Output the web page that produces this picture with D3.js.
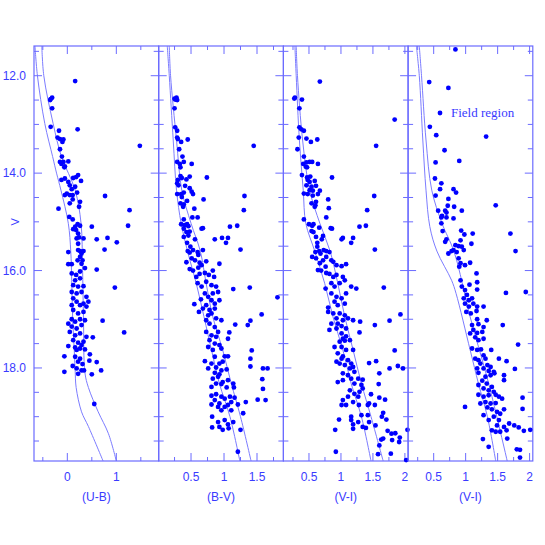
<!DOCTYPE html>
<html>
<head>
<meta charset="utf-8">
<script src="https://cdn.jsdelivr.net/npm/d3@7"></script>
<style>
body { margin: 0; background: #fff; }
</style>
</head>
<body>
<div id="main"></div>
<script>
var ctx = {
    w: 545,
    h: 545,
    top: 46,
    bottom: 461,
    left: 34,
    pw: 124.7,
};

// V magnitude axis
const vDomain = [11.39, 19.91];
const vLabels = [12, 14, 16, 18];

// colour axis tick labels
const ubTicks = [0, 1];
const bvTicks = [0.5, 1, 1.5];
const viTicks = [0.5, 1, 1.5, 2];

// cluster stars, [colour, V]
const pointsUB = [
    [0.16,12.11],[-0.31,12.45],[-0.34,12.48],[-0.35,12.5],[-0.31,12.67],[-0.34,13.05],[-0.17,13.13],[0.21,13.10],
    [-0.20,13.27],[-0.15,13.30],[-0.08,13.31],[-0.10,13.36],[-0.15,13.51],[1.48,13.44],
    [-0.11,13.66],[-0.15,13.77],[-0.08,13.77],[-0.12,13.81],[-0.05,13.86],[0.02,13.76],[-0.06,13.88],
    [0.22,14.04],[0.18,14.08],[0.12,14.10],[0.28,14.16],[-0.12,14.14],[-0.05,14.11],[0.02,14.18],
    [0.05,14.25],[0.16,14.28],[0.09,14.33],[0.20,14.40],[-0.01,14.42],[0.05,14.45],[0.11,14.45],[-0.05,14.45],
    [0.77,14.47],[0.26,14.59],[0.05,14.62],[0.11,14.54],[-0.18,14.73],[0.24,14.69],[1.27,14.76],
    [0.04,14.90],[0.11,14.95],[0.21,15.05],[0.16,15.10],[0.26,15.08],[0.12,15.15],[0.18,15.17],[0.50,15.10],[1.24,15.08],
    [0.22,15.24],[0.19,15.34],[0.24,15.32],[0.60,15.36],[0.82,15.33],[0.33,15.34],[1.01,15.42],[0.76,15.57],
    [0.22,15.45],[0.26,15.60],[0.33,15.60],[0.22,15.58],[0.29,15.65],[0.02,15.62],
    [0.26,15.72],[0.31,15.79],[0.21,15.79],[0.09,15.87],[0.29,15.86],[0.02,15.87],[0.36,15.95],[0.60,15.98],
    [0.09,16.06],[0.18,16.09],[0.26,16.02],[0.16,16.20],[0.26,16.16],
    [0.97,16.35],[0.12,16.3],[0.22,16.33],[0.33,16.32],[0.09,16.44],[0.19,16.47],[0.29,16.44],[0.39,16.54],[0.12,16.57],
    [0.19,16.64],[0.33,16.68],[0.43,16.64],[0.26,16.71],[0.09,16.71],[0.39,16.74],
    [0.12,16.81],[0.22,16.88],[0.33,16.85],[0.09,17.0],[0.26,17.0],[0.36,17.02],[0.16,17.05],[0.02,17.09],
    [0.72,17.03],[1.16,17.27],
    [0.09,17.15],[0.19,17.19],[0.29,17.12],[0.05,17.26],[0.16,17.33],[0.26,17.29],[0.39,17.36],[0.52,17.37],
    [0.12,17.43],[0.22,17.48],[0.33,17.46],[0.02,17.55],[0.16,17.58],[0.26,17.60],[0.36,17.62],[0.29,17.53],[0.19,17.63],
    [-0.06,17.76],[0.46,17.72],[0.16,17.77],[0.26,17.81],[0.22,17.87],[0.11,17.96],[0.31,17.92],[0.45,17.85],[0.60,17.88],
    [0.69,18.05],[-0.06,18.08],[0.19,18.01],[0.29,18.05],[0.34,18.05],[0.22,18.12],[0.50,18.13],[0.55,18.74],
];

const pointsBV = [
    [0.25,12.47],[0.28,12.45],[0.29,12.50],[0.26,12.49],[0.25,12.67],[0.26,13.06],[0.29,13.13],
    [0.29,13.27],[0.30,13.30],[0.35,13.36],[0.45,13.31],[0.32,13.51],[1.45,13.44],
    [0.37,13.66],[0.29,13.77],[0.33,13.81],[0.39,13.77],[0.34,13.88],[0.51,13.81],
    [0.34,14.06],[0.30,14.14],[0.29,14.21],[0.36,14.10],[0.43,14.13],[0.48,14.07],[0.31,14.25],[0.74,14.09],
    [0.41,14.26],[0.48,14.31],[0.51,14.38],[0.29,14.43],[0.35,14.43],[0.39,14.40],[0.53,14.43],[0.36,14.49],
    [1.31,14.47],[0.69,14.54],[0.44,14.57],[0.34,14.62],[0.39,14.64],[0.38,14.69],[0.55,14.73],[1.30,14.76],
    [0.52,14.91],[0.60,14.91],[0.39,14.95],
    [0.35,15.05],[0.40,15.07],[0.44,15.05],[0.46,15.09],[0.39,15.14],[0.43,15.21],[0.48,15.20],[0.46,15.28],
    [0.66,15.14],[0.68,15.13],[1.09,15.10],[1.20,15.08],[0.39,15.31],
    [0.86,15.36],[0.97,15.33],[1.06,15.33],[1.03,15.43],[0.56,15.36],[0.44,15.43],
    [0.49,15.51],[0.45,15.60],[0.48,15.63],[0.53,15.58],[0.60,15.62],[0.68,15.58],[1.25,15.57],[0.61,15.68],
    [0.51,15.75],[0.56,15.79],[0.63,15.84],[0.43,15.83],[0.66,15.89],[0.73,15.81],[0.61,15.94],[0.93,15.86],
    [0.48,15.97],[0.53,16.0],[0.63,16.07],[0.58,16.13],[0.71,16.05],[0.77,16.09],[0.83,16.0],[0.85,16.13],
    [0.60,16.26],[0.66,16.33],[0.73,16.23],[0.81,16.30],[0.88,16.33],[0.91,16.44],[0.83,16.47],
    [1.14,16.38],[1.39,16.35],[1.81,16.55],
    [0.65,16.59],[0.71,16.47],[0.76,16.54],[0.81,16.61],[0.55,16.69],[0.73,16.71],[0.86,16.68],[0.93,16.61],[0.62,16.85],
    [0.68,16.78],[0.78,16.81],[0.86,16.78],
    [0.76,16.92],[0.81,16.88],[0.73,17.02],[0.88,16.98],[0.96,17.02],[0.78,17.09],[0.86,17.16],[0.73,17.26],
    [1.57,16.9],[1.17,17.11],[1.36,17.12],[1.40,17.03],[1.08,17.27],[1.06,17.40],
    [0.81,17.33],[0.88,17.36],[0.91,17.26],[0.78,17.43],[0.86,17.5],[0.93,17.53],[0.76,17.57],[0.83,17.63],[0.96,17.60],
    [1.42,17.64],[1.40,17.81],[1.40,17.97],
    [1.01,17.76],[1.06,17.76],[0.71,17.86],[0.86,17.77],[0.81,17.91],[0.93,17.91],[0.98,17.87],
    [0.76,18.01],[0.88,17.99],[0.96,18.05],[1.04,18.03],[0.86,18.10],[0.93,18.13],
    [1.59,18.01],[1.66,18.01],[1.58,18.23],[1.59,18.43],[1.51,18.65],[1.63,18.66],
    [0.83,18.22],[0.91,18.18],[0.98,18.29],[1.06,18.25],[0.88,18.32],[0.96,18.33],[0.81,18.39],[1.04,18.40],[1.14,18.32],[1.15,18.40],
    [0.81,18.57],[0.88,18.54],[0.96,18.59],[1.01,18.63],[1.09,18.59],[1.16,18.61],[1.11,18.70],[0.86,18.66],[0.93,18.73],[1.01,18.80],
    [1.21,18.75],[1.33,18.70],[0.81,18.75],[0.91,18.80],[1.06,18.76],
    [0.96,18.87],[1.11,18.87],[1.29,18.93],
    [0.82,19.0],[0.91,19.11],[1.01,19.07],[1.06,19.16],[0.93,19.21],[1.14,19.11],
    [0.82,19.22],[0.98,19.27],[1.07,19.24],[1.25,19.27],[1.21,19.72],
];

const pointsVI = [
    [0.67,12.12],[0.28,12.45],[0.27,12.47],[0.39,12.49],[0.35,12.67],[1.84,12.9],
    [0.35,13.06],[0.38,13.10],[0.42,13.13],[0.34,13.27],[0.46,13.29],[0.53,13.36],[0.63,13.31],[1.55,13.44],[0.32,13.51],
    [0.42,13.66],[0.46,13.78],[0.41,13.81],[0.51,13.77],[0.55,13.77],[0.64,13.81],[0.45,13.87],[0.47,13.88],
    [0.39,14.04],[0.47,14.09],[0.52,14.07],[0.48,14.14],[0.59,14.16],[0.46,14.25],[0.51,14.18],[0.54,14.28],[0.61,14.26],[0.86,14.09],
    [0.51,14.35],[0.56,14.36],[0.67,14.36],[0.42,14.42],[0.48,14.43],[0.56,14.46],[0.64,14.43],[1.52,14.47],
    [0.80,14.54],[0.61,14.59],[0.54,14.62],[0.60,14.66],[0.59,14.69],[0.81,14.72],[1.41,14.76],[0.77,14.91],[0.42,14.95],
    [0.50,15.05],[0.55,15.08],[0.57,15.05],[0.54,15.19],[0.57,15.21],[0.61,15.31],[0.66,15.12],
    [0.84,15.13],[0.86,15.14],[1.29,15.10],[1.39,15.08],[0.72,15.29],[0.70,15.36],
    [1.01,15.36],[1.03,15.33],[1.19,15.33],[1.16,15.43],[0.63,15.43],[0.63,15.51],
    [0.60,15.62],[0.66,15.60],[0.68,15.65],[0.73,15.58],[0.77,15.60],[0.82,15.62],[1.53,15.57],
    [0.55,15.72],[0.61,15.75],[0.72,15.79],[0.77,15.72],
    [0.88,15.82],[0.93,15.89],[1.01,15.91],[0.85,15.79],[0.67,15.85],[0.76,15.92],[1.08,15.87],
    [0.64,15.99],[0.69,16.0],[0.77,16.05],[0.82,16.07],[0.88,16.13],[0.93,16.09],[1.03,16.13],[1.06,16.2],[0.98,16.26],[0.85,16.26],[0.90,16.33],
    [1.16,16.33],[1.24,16.37],[0.76,16.37],[1.67,16.35],
    [0.85,16.47],[0.93,16.54],[1.01,16.57],[1.08,16.47],[0.90,16.64],[0.95,16.71],[1.06,16.68],[0.80,16.76],[0.80,16.85],[1.93,16.9],
    [0.88,16.88],[0.98,16.88],[1.06,16.92],[0.93,16.98],[1.03,17.02],[1.11,16.98],[1.19,17.02],[0.95,17.09],[1.01,17.14],[0.85,17.09],[1.08,17.19],
    [1.30,17.05],[1.53,17.12],[1.76,17.03],
    [0.82,17.22],[0.93,17.19],[1.01,17.29],[1.08,17.35],[1.29,17.27],[1.03,17.40],
    [0.98,17.46],[1.06,17.44],[1.14,17.43],[0.90,17.57],[1.01,17.57],[1.08,17.63],[1.19,17.63],[0.95,17.70],[1.03,17.76],[1.84,17.64],
    [0.93,17.87],[1.01,17.81],[1.11,17.84],[1.16,17.91],[1.06,17.94],[1.14,18.01],[1.19,17.98],[0.98,17.91],
    [1.44,17.90],[1.55,17.86],[1.76,18.01],[1.89,17.96],[1.97,18.01],
    [1.03,18.11],[1.11,18.15],[1.21,18.08],[1.16,18.22],[1.27,18.22],[1.34,18.24],[0.95,18.29],[1.03,18.25],[1.21,18.32],[1.32,18.35],
    [1.60,18.11],[1.59,18.33],
    [1.14,18.46],[1.21,18.53],[1.29,18.49],[1.34,18.42],[1.11,18.59],[1.27,18.59],[1.19,18.70],[1.03,18.66],[1.08,18.76],[1.01,18.76],
    [1.47,18.54],[1.60,18.61],[1.69,18.65],
    [1.28,18.76],[1.42,18.76],[1.44,18.73],[1.53,18.76],[1.32,18.97],[1.42,18.97],[1.16,19.0],[1.16,19.07],
    [1.66,18.92],[1.71,19.06],[1.64,19.0],[0.97,19.06],
    [1.27,19.11],[1.19,19.16],[1.44,19.11],[1.34,19.21],[1.19,19.25],[1.39,19.23],[1.54,19.18],[0.91,19.27],
    [1.73,19.29],[1.79,19.35],[1.85,19.34],[1.92,19.43],[1.80,19.48],[1.91,19.52],[1.66,19.45],[1.63,19.47],
    [2.04,19.27],[1.60,19.59],[1.58,19.77],[1.78,19.76],[0.92,19.72],[2.02,19.89],
];

// field region stars, [V-I, V]
const pointsField = [
    [0.84,11.46],[0.43,12.13],[0.73,12.25],[0.44,13.05],[0.54,13.22],[1.32,13.25],[0.67,13.53],[0.90,13.75],[0.53,13.78],
    [0.52,14.11],[0.62,14.21],[0.60,14.33],[0.53,14.46],[0.81,14.33],[0.85,14.40],
    [0.73,14.53],[0.72,14.67],[0.82,14.69],[0.57,14.77],[0.68,14.77],[0.70,14.81],[0.63,14.88],[0.70,14.91],[0.62,14.91],[0.81,14.93],[0.94,14.77],
    [1.47,14.66],
    [0.62,15.03],[0.64,15.19],[0.93,15.18],[0.98,15.26],[1.11,15.24],[0.92,15.38],[0.70,15.36],[0.68,15.41],[1.70,15.24],[1.09,15.45],
    [0.84,15.48],[0.89,15.50],[0.94,15.51],[0.81,15.58],[0.86,15.62],[0.97,15.58],[0.73,15.65],[0.78,15.60],[1.78,15.60],
    [0.89,15.75],[0.92,15.85],[0.90,15.92],[0.99,15.89],[1.07,15.84],
    [1.17,16.06],[0.92,16.2],[1.06,16.29],[1.18,16.24],[1.18,16.39],[1.63,16.46],[1.94,16.44],
    [0.94,16.33],[0.99,16.40],[1.02,16.5],[0.97,16.57],[1.05,16.61],[1.10,16.57],[1.12,16.68],[0.99,16.68],[1.05,16.74],[1.18,16.74],[1.28,16.74],
    [1.01,16.85],[1.08,16.88],[1.17,16.83],
    [1.18,17.0],[1.33,17.02],[1.10,17.12],[1.20,17.1],[1.28,17.16],[1.12,17.22],[1.07,17.29],[1.18,17.28],[1.26,17.26],[1.15,17.37],[1.28,17.40],[1.20,17.43],
    [1.58,17.12],[1.82,17.52],
    [1.10,17.6],[1.18,17.63],[1.24,17.62],[1.40,17.63],[1.28,17.74],[1.15,17.81],[1.20,17.84],[1.31,17.81],[1.23,17.91],[1.34,17.94],[1.39,17.98],
    [1.18,18.01],[1.28,18.01],[1.44,18.08],[1.36,18.06],[1.52,17.81],[1.64,17.86],[1.77,18.02],
    [1.20,18.1],[1.31,18.18],[1.39,18.15],[1.45,18.11],[1.60,18.15],[1.60,18.25],[1.26,18.26],[1.33,18.32],[1.41,18.39],[1.20,18.35],[1.28,18.42],[1.36,18.46],[1.44,18.49],
    [1.20,18.55],[1.28,18.59],[1.36,18.56],[1.47,18.55],[1.52,18.59],[1.57,18.63],[1.23,18.73],[1.31,18.70],[1.39,18.73],[1.47,18.72],
    [1.34,18.81],[1.41,18.85],[1.49,18.9],[1.60,18.85],[1.54,18.94],[1.89,18.61],[1.89,18.84],[0.99,18.8],
    [1.28,18.97],[1.44,19.0],[1.52,19.07],[1.36,19.07],[1.49,19.18],[1.60,19.21],[1.68,19.14],[1.76,19.18],[1.83,19.22],[1.91,19.29],
    [1.41,19.28],[1.47,19.31],[1.54,19.31],[1.64,19.28],[2.01,19.27],
    [1.27,19.46],[1.65,19.45],[1.36,19.62],[1.80,19.67],[1.85,19.68],[1.85,19.84],
];

// isochrones, [colour, V]
const isoUB1 = [[-0.66,11.39],[-0.61,12.0],[-0.46,12.98],[-0.30,13.66],[-0.22,14.0],[-0.13,14.35],[0.02,15.03],[0.07,15.6],[0.09,16.2],[0.11,17.0],[0.14,17.6],[0.16,18.05],[0.18,18.4],[0.29,18.9],[0.43,19.2],[0.73,19.91]];
const isoUB2 = [[-0.52,11.39],[-0.48,12.0],[-0.29,12.98],[-0.12,13.66],[0.16,14.35],[0.28,15.03],[0.31,15.92],[0.33,17.0],[0.36,18.1],[0.43,18.4],[0.63,18.9],[0.84,19.35],[1.0,19.91]];
const isoBV1 = [[0.14,11.39],[0.17,12.0],[0.23,13.32],[0.28,14.35],[0.35,15.03],[0.45,15.62],[0.58,16.27],[0.81,17.63],[0.93,18.32],[1.09,19.0],[1.24,19.91]];
const isoBV2 = [[0.17,11.39],[0.19,12.0],[0.28,13.32],[0.36,14.35],[0.50,15.03],[0.64,15.6],[0.73,16.27],[0.83,16.95],[0.98,17.63],[1.11,18.32],[1.25,19.0],[1.41,19.91]];
const isoVI1 = [[0.28,11.39],[0.30,12.0],[0.35,13.32],[0.41,14.35],[0.45,15.03],[0.59,15.6],[0.745,16.26],[0.875,16.95],[1.03,17.63],[1.16,18.32],[1.32,19.0],[1.47,19.91]];
const isoVI2 = [[0.30,11.39],[0.32,12.0],[0.40,13.32],[0.51,14.35],[0.67,15.03],[0.83,15.6],[0.95,16.26],[1.06,16.95],[1.19,17.63],[1.32,18.32],[1.47,19.0],[1.66,19.91]];
const isoField1 = [[0.23,11.39],[0.275,12.0],[0.33,13.32],[0.38,14.35],[0.44,15.1],[0.55,15.6],[0.78,16.2],[0.85,16.47],[1.07,17.63],[1.2,18.32],[1.34,19.0],[1.47,19.91]];
const isoField2 = [[0.275,11.39],[0.31,12.0],[0.38,13.32],[0.47,14.35],[0.63,15.03],[0.82,15.62],[1.07,16.95],[1.36,18.32],[1.65,19.91]];

const PANELS = [
    {title: "(U-B)", domain: [-0.68, 1.865], step: 1, ticks: ubTicks, points: pointsUB, iso: [isoUB1, isoUB2]},
    {title: "(B-V)", domain: [0.01, 1.9], step: 0.5, ticks: bvTicks, points: pointsBV, iso: [isoBV1, isoBV2]},
    {title: "(V-I)", domain: [0.1, 2.05], step: 0.5, ticks: viTicks, points: pointsVI, iso: [isoVI1, isoVI2]},
    {title: "(V-I)", domain: [0.1, 2.05], step: 0.5, ticks: viTicks, points: pointsField, iso: [isoField1, isoField2]},
];

const SANS = "'Liberation Sans', Arial, sans-serif";
const SERIF = "'Liberation Serif', 'DejaVu Serif', serif";
const FRAME = "#6b6bff";
const TEXT = "#3a3aff";
const DOT = "#0000ff";
const LINE = "#7c7cff";

var createViz = function(){
    var svgEl = d3.select("#main").append("svg")
        .attr("width", ctx.w)
        .attr("height", ctx.h);
    svgEl.append("rect")
        .attr("width", "100%")
        .attr("height", "100%")
        .attr("fill", "#ffffff");
    ctx.y = d3.scaleLinear().domain(vDomain).range([ctx.top, ctx.bottom]);
    PANELS.forEach(function(p, i){ drawPanel(svgEl, p, i); });
    drawLabels(svgEl);
};

var drawPanel = function(svgEl, p, i){
    var x0 = ctx.left + i * ctx.pw;
    var x1 = x0 + ctx.pw;
    var x = d3.scaleLinear().domain(p.domain).range([x0, x1]);
    var y = ctx.y;
    var g = svgEl.append("g").attr("class", "panel");

    // isochrones
    var line = d3.line()
        .x(function(d){ return x(d[0]); })
        .y(function(d){ return y(d[1]); })
        .curve(d3.curveCatmullRom);
    g.selectAll("path.iso")
        .data(p.iso)
        .enter()
        .append("path")
        .attr("class", "iso")
        .attr("d", line)
        .attr("fill", "none")
        .attr("stroke", LINE)
        .attr("stroke-width", 1);

    // frame
    g.append("rect")
        .attr("x", x0)
        .attr("y", ctx.top)
        .attr("width", ctx.pw)
        .attr("height", ctx.bottom - ctx.top)
        .attr("fill", "none")
        .attr("stroke", FRAME)
        .attr("stroke-width", 1.2);

    // x ticks, top and bottom, inward
    var minor = p.step / 2;
    var xt = d3.range(Math.ceil(p.domain[0] / minor) * minor, p.domain[1] + 1e-9, minor)
        .filter(function(v){ return x(v) > x0 + 1 && x(v) < x1 - 1; });
    xt.forEach(function(v){
        var isMajor = Math.abs(v / p.step - Math.round(v / p.step)) < 1e-6;
        var len = isMajor ? 8 : 4;
        g.append("line").attr("x1", x(v)).attr("x2", x(v))
            .attr("y1", ctx.bottom).attr("y2", ctx.bottom - len)
            .attr("stroke", FRAME);
        g.append("line").attr("x1", x(v)).attr("x2", x(v))
            .attr("y1", ctx.top).attr("y2", ctx.top + len)
            .attr("stroke", FRAME);
    });

    // y ticks, both sides, inward
    var yt = d3.range(11.5, 19.91, 0.5);
    yt.forEach(function(v){
        var len = (v % 2 === 0) ? 8 : 5;
        g.append("line").attr("x1", x0).attr("x2", x0 + len)
            .attr("y1", y(v)).attr("y2", y(v)).attr("stroke", FRAME);
        g.append("line").attr("x1", x1).attr("x2", x1 - len)
            .attr("y1", y(v)).attr("y2", y(v)).attr("stroke", FRAME);
    });

    // x tick labels
    g.selectAll("text.xtick")
        .data(p.ticks)
        .enter()
        .append("text")
        .attr("class", "xtick")
        .attr("x", function(d){ return x(d); })
        .attr("y", 481)
        .attr("text-anchor", "middle")
        .style("font-family", SANS)
        .attr("font-size", 12)
        .attr("fill", TEXT)
        .text(function(d){ return String(d); });

    g.append("text")
        .attr("x", (x0 + x1) / 2)
        .attr("y", 501)
        .attr("text-anchor", "middle")
        .style("font-family", SANS)
        .attr("font-size", 12)
        .attr("fill", TEXT)
        .text(p.title);

    // stars
    g.selectAll("circle.star")
        .data(p.points)
        .enter()
        .append("circle")
        .attr("class", "star")
        .attr("cx", function(d){ return x(d[0]); })
        .attr("cy", function(d){ return y(d[1]); })
        .attr("r", 2.4)
        .attr("fill", DOT);
};

var drawLabels = function(svgEl){
    svgEl.selectAll("text.ytick")
        .data(vLabels)
        .enter()
        .append("text")
        .attr("class", "ytick")
        .attr("x", 26)
        .attr("y", function(d){ return ctx.y(d) + 4; })
        .attr("text-anchor", "end")
        .style("font-family", SANS)
        .attr("font-size", 12)
        .attr("fill", TEXT)
        .text(function(d){ return d3.format(".1f")(d); });

    svgEl.append("text")
        .attr("transform", "translate(19," + ctx.y(15) + ") rotate(-90)")
        .attr("text-anchor", "middle")
        .style("font-family", SANS)
        .attr("font-size", 11)
        .attr("fill", TEXT)
        .text("V");

    // legend of field panel
    svgEl.append("circle")
        .attr("cx", 440)
        .attr("cy", 113)
        .attr("r", 2.4)
        .attr("fill", DOT);
    svgEl.append("text")
        .attr("x", 451)
        .attr("y", 117)
        .style("font-family", SERIF)
        .attr("font-size", 13)
        .attr("fill", TEXT)
        .text("Field region");
};

createViz();
</script>
</body>
</html>
